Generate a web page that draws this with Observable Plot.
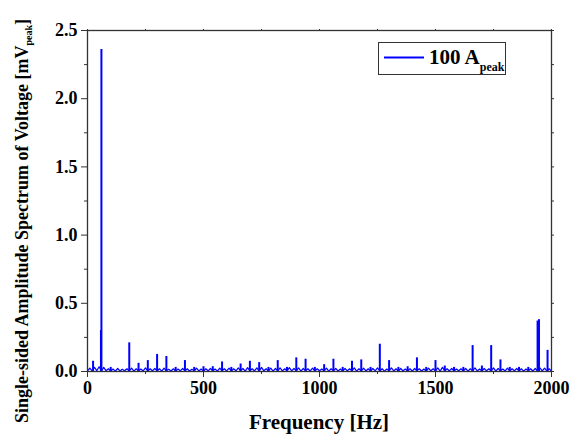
<!DOCTYPE html>
<html>
<head>
<meta charset="utf-8">
<script src="https://cdn.jsdelivr.net/npm/d3@7"></script>
<script src="https://cdn.jsdelivr.net/npm/@observablehq/plot@0.6"></script>
<style>
  html, body { margin: 0; padding: 0; background: white; }
  #chart { position: relative; width: 571px; height: 439px; }
  #chart svg text { font-family: "Liberation Serif", "Times New Roman", serif !important; font-weight: bold; }
</style>
</head>
<body>
<div id="chart"></div>
<script>
// Noise floor sampled every 10 Hz from 0 to 2000 Hz (mV peak)
const noiseStart = 0, noiseStep = 10;
const noiseAmp = [
  0.004,0.025,0.005,0.03,0.006,0.035,0.004,0.03,0.005,0.02,0.004,
  0.018,0.003,0.022,0.004,0.016,0.005,0.02,0.004,0.025,0.003,
  0.02,0.005,0.018,0.004,0.026,0.003,0.02,0.005,0.022,0.004,
  0.02,0.003,0.024,0.005,0.016,0.004,0.02,0.003,0.018,0.005,
  0.022,0.004,0.02,0.003,0.016,0.005,0.024,0.004,0.018,0.003,
  0.02,0.005,0.022,0.004,0.018,0.003,0.025,0.005,0.02,0.004,
  0.024,0.003,0.02,0.005,0.026,0.004,0.022,0.003,0.028,0.005,
  0.02,0.004,0.026,0.003,0.03,0.005,0.02,0.004,0.024,0.003,
  0.022,0.005,0.026,0.004,0.02,0.003,0.028,0.005,0.022,0.004,
  0.026,0.003,0.022,0.005,0.02,0.004,0.024,0.003,0.02,0.005,
  0.018,0.004,0.024,0.003,0.02,0.005,0.022,0.004,0.018,0.003,
  0.022,0.005,0.02,0.004,0.026,0.003,0.02,0.005,0.024,0.004,
  0.02,0.003,0.022,0.005,0.026,0.004,0.02,0.003,0.018,0.005,
  0.026,0.004,0.02,0.003,0.022,0.005,0.018,0.004,0.02,0.003,
  0.022,0.005,0.02,0.004,0.018,0.003,0.024,0.005,0.02,0.004,
  0.026,0.003,0.03,0.005,0.02,0.004,0.022,0.003,0.018,0.005,
  0.02,0.004,0.022,0.003,0.02,0.005,0.026,0.004,0.018,0.003,
  0.022,0.005,0.02,0.004,0.026,0.003,0.022,0.005,0.018,0.004,
  0.024,0.003,0.02,0.005,0.022,0.004,0.02,0.003,0.018,0.005,
  0.02,0.004,0.022,0.003,0.026,0.005,0.024,0.004,0.02,0.003
];

// Spectral lines (Hz) and their amplitudes (mV peak)
const spikeFreq = [24, 58, 60, 100, 180, 220, 260, 300, 340, 380, 420, 460, 500, 540, 580, 620, 660, 700, 740, 780,
  820, 860, 900, 940, 980, 1020, 1060, 1100, 1140, 1180, 1220, 1260, 1300, 1340, 1380, 1420, 1460, 1500, 1540,
  1580, 1620, 1660, 1700, 1740, 1780, 1820, 1860, 1900, 1940, 1946, 1983];
const spikeAmp = [0.075, 0.30, 2.36, 0.03, 0.21, 0.06, 0.08, 0.125, 0.11, 0.03, 0.08, 0.03, 0.035, 0.035, 0.07, 0.03, 0.055, 0.075, 0.065, 0.03,
  0.08, 0.03, 0.10, 0.09, 0.03, 0.05, 0.09, 0.03, 0.075, 0.085, 0.03, 0.20, 0.08, 0.03, 0.035, 0.10, 0.03, 0.08, 0.04,
  0.03, 0.03, 0.19, 0.04, 0.19, 0.085, 0.03, 0.03, 0.03, 0.37, 0.38, 0.155];

const xMajor = [0, 500, 1000, 1500, 2000];
const xMinor = [250, 750, 1250, 1750];
const yMajor = [0, 0.5, 1.0, 1.5, 2.0, 2.5];
const yMinor = [0.25, 0.75, 1.25, 1.75, 2.25];

const xTitle = "Frequency [Hz]";
const yTitleMain = "Single-sided Amplitude Spectrum of Voltage [mV";
const yTitleSub = "peak";
const legendMain = "100 A";
const legendSub = "peak";

const noise = noiseAmp.map((a, i) => ({f: noiseStart + i * noiseStep, a}));
const spikes = spikeFreq.map((f, i) => ({f, a: spikeAmp[i]}));
const blue = "#0000ff";

const chart = Plot.plot({
  width: 571,
  height: 439,
  marginLeft: 87,
  marginRight: 20,
  marginTop: 30,
  marginBottom: 68,
  x: {domain: [0, 2000]},
  y: {domain: [0, 2.5]},
  style: {fontSize: "18px", color: "black", background: "white", overflow: "visible"},
  marks: [
    Plot.line(noise, {x: "f", y: "a", stroke: blue, strokeWidth: 1.2}),
    Plot.ruleX(spikes, {x: "f", y1: 0, y2: "a", stroke: blue, strokeWidth: 2}),
    Plot.frame({stroke: "#333", strokeWidth: 1.3}),
    Plot.axisX(xMajor, {tickSize: 6, tickPadding: 4, tickFormat: d => String(d), label: null, fontSize: 18, stroke: "#333"}),
    Plot.axisX(xMinor, {tickSize: 3, tickFormat: () => "", label: null, stroke: "#333"}),
    Plot.axisX(xMajor.concat(xMinor), {anchor: "top", tickSize: 2, tickFormat: () => "", label: null, stroke: "#333"}),
    Plot.axisY(yMajor, {tickSize: 6, tickPadding: 4, tickFormat: d3.format(".1f"), label: null, fontSize: 18, stroke: "#333"}),
    Plot.axisY(yMinor, {tickSize: 3, tickFormat: () => "", label: null, stroke: "#333"}),
    Plot.axisY(yMajor.concat(yMinor), {anchor: "right", tickSize: 2, tickFormat: () => "", label: null, stroke: "#333"})
  ]
});

document.getElementById("chart").appendChild(chart);

const svg = d3.select(chart);

// X axis title
svg.append("text")
  .attr("x", 319).attr("y", 429)
  .attr("text-anchor", "middle")
  .attr("font-size", 21)
  .attr("fill", "black")
  .text(xTitle);

// Y axis title (rotated) with subscript
const yt = svg.append("text")
  .attr("transform", "translate(28,221) rotate(-90)")
  .attr("text-anchor", "middle")
  .attr("font-size", 18)
  .attr("fill", "black");
yt.append("tspan").text(yTitleMain);
yt.append("tspan").attr("font-size", 10).attr("dy", 4).text(yTitleSub);
yt.append("tspan").attr("dy", -4).text("]");

// Legend
const lg = svg.append("g");
lg.append("rect").attr("x", 378.5).attr("y", 42.5).attr("width", 127).attr("height", 32)
  .attr("fill", "white").attr("stroke", "#333").attr("stroke-width", 1);
lg.append("line").attr("x1", 384).attr("x2", 424).attr("y1", 57.5).attr("y2", 57.5)
  .attr("stroke", blue).attr("stroke-width", 2);
const lt = lg.append("text").attr("x", 429).attr("y", 64)
  .attr("text-anchor", "start")
  .attr("font-size", 21).attr("fill", "black");
lt.append("tspan").text(legendMain);
lt.append("tspan").attr("font-size", 12).attr("dy", 7).text(legendSub);
</script>
</body>
</html>
